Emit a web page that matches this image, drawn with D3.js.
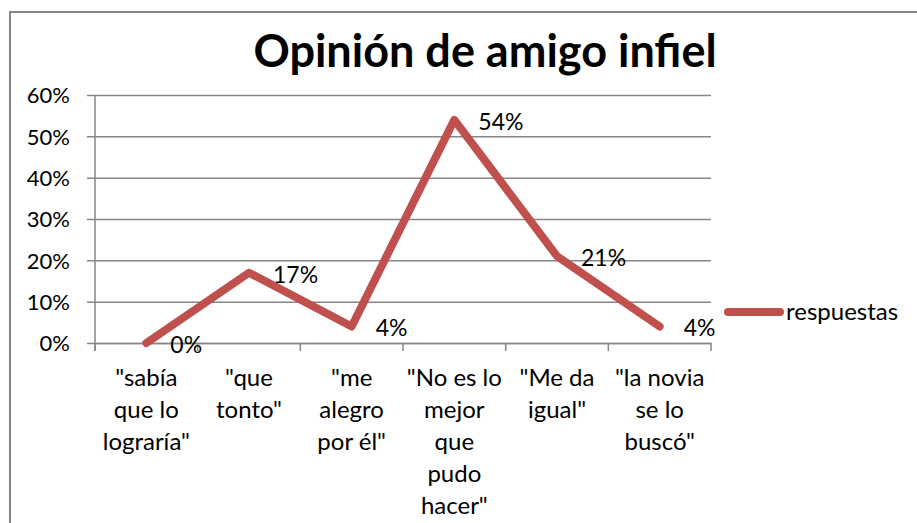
<!DOCTYPE html>
<html lang="es">
<head>
  <meta charset="utf-8">
  <title>Opinión de amigo infiel</title>
  <style>
    body { margin: 0; background: #fff; }
    svg text { font-family: Lato, "Open Sans", sans-serif; fill: #000; }
  </style>
</head>
<body>
  <script src="https://cdnjs.cloudflare.com/ajax/libs/d3/7.8.5/d3.min.js"></script>
  <script type="text/javascript">
  // data
  const categories = [
    ["\"sabía", "que lo", "lograría\""],
    ["\"que", "tonto\""],
    ["\"me", "alegro", "por él\""],
    ["\"No es lo", "mejor", "que", "pudo", "hacer\""],
    ["\"Me da", "igual\""],
    ["\"la novia", "se lo", "buscó\""]
  ];
  const respuestas = [0, 0.17, 0.04, 0.54, 0.21, 0.04];
  const labels = ["0%", "17%", "4%", "54%", "21%", "4%"];
  const yTicks = [0, 0.1, 0.2, 0.3, 0.4, 0.5, 0.6];
  const seriesName = "respuestas";

  const W = 917, H = 523;
  const plot = { left: 95, right: 711, top: 95, bottom: 343 };
  const red = "#C0504D", grey = "#868686";

  const svg = d3.select("body")
  .append("svg")
  .attr("width", W)
  .attr("height", H);

  // chart border (right and bottom are cut off in the picture)
  svg.append("path")
  .attr("d", `M10,${H} V12 H${W}`)
  .attr("fill", "none")
  .attr("stroke", grey)
  .attr("stroke-width", 2);

  const idx = d3.range(categories.length);

  const xScale = d3.scaleBand()
  .domain(idx)
  .range([plot.left, plot.right]);

  const yScale = d3.scaleLinear()
  .domain([0, 0.6])
  .range([plot.bottom, plot.top]);

  // gridlines + y axis
  const yAxis = d3.axisLeft(yScale)
  .tickValues(yTicks)
  .tickFormat(d3.format(".0%"))
  .tickSize(-(plot.right - plot.left))
  .tickSizeOuter(0)
  .tickPadding(25);

  const yg = svg.append("g")
  .attr("transform", `translate(${plot.left},0)`)
  .call(yAxis);
  yg.select(".domain").remove();
  yg.selectAll(".tick line")
  .attr("x1", -8)
  .attr("stroke", grey)
  .attr("stroke-width", 1.5);
  yg.selectAll(".tick text")
  .style("font-size", "22px")
  .attr("dy", "0.35em");

  svg.append("line")
  .attr("x1", plot.left).attr("x2", plot.left)
  .attr("y1", plot.top).attr("y2", plot.bottom + 8)
  .attr("stroke", grey)
  .attr("stroke-width", 1.5);

  // x axis
  const xAxis = d3.axisBottom(xScale)
  .tickSize(0)
  .tickFormat("");

  const xg = svg.append("g")
  .attr("transform", `translate(0,${plot.bottom})`)
  .call(xAxis);
  xg.select(".domain")
  .attr("stroke", grey)
  .attr("stroke-width", 1.5);

  // tick marks between categories
  svg.selectAll(".xtick")
  .data(d3.range(categories.length + 1))
  .enter()
  .append("line")
  .attr("class", "xtick")
  .attr("x1", (d) => plot.left + d * xScale.step())
  .attr("x2", (d) => plot.left + d * xScale.step())
  .attr("y1", plot.bottom)
  .attr("y2", plot.bottom + 8)
  .attr("stroke", grey)
  .attr("stroke-width", 1.5);

  // category labels (multi-line)
  const catText = svg.selectAll(".cat")
  .data(categories)
  .enter()
  .append("text")
  .attr("class", "cat")
  .attr("text-anchor", "middle")
  .style("font-size", "24px");
  catText.selectAll("tspan")
  .data((d, i) => d.map((t) => ({ t, i })))
  .enter()
  .append("tspan")
  .attr("x", (d) => xScale(d.i) + xScale.bandwidth() / 2)
  .attr("y", (d, j) => 386 + j * 32)
  .text((d) => d.t);

  // line
  const cx = (i) => xScale(i) + xScale.bandwidth() / 2;
  const line = d3.line()
  .x((d, i) => cx(i))
  .y((d) => yScale(d));

  svg.append("path")
  .datum(respuestas)
  .attr("d", line)
  .attr("fill", "none")
  .attr("stroke", red)
  .attr("stroke-width", 8)
  .attr("stroke-linejoin", "round")
  .attr("stroke-linecap", "round");

  // data labels
  svg.selectAll(".lbl")
  .data(respuestas)
  .enter()
  .append("text")
  .attr("class", "lbl")
  .attr("x", (d, i) => cx(i) + 24)
  .attr("y", (d) => yScale(d) + 10)
  .style("font-size", "23px")
  .text((d, i) => labels[i]);

  // title
  svg.append("text")
  .attr("x", 485)
  .attr("y", 67)
  .attr("text-anchor", "middle")
  .style("font-size", "45px")
  .style("font-weight", "bold")
  .text("Opinión de amigo infiel");

  // legend
  svg.append("line")
  .attr("x1", 728).attr("x2", 780)
  .attr("y1", 312).attr("y2", 312)
  .attr("stroke", red)
  .attr("stroke-width", 8)
  .attr("stroke-linecap", "round");

  svg.append("text")
  .attr("x", 786)
  .attr("y", 320)
  .style("font-size", "24px")
  .text(seriesName);
  </script>
</body>
</html>
